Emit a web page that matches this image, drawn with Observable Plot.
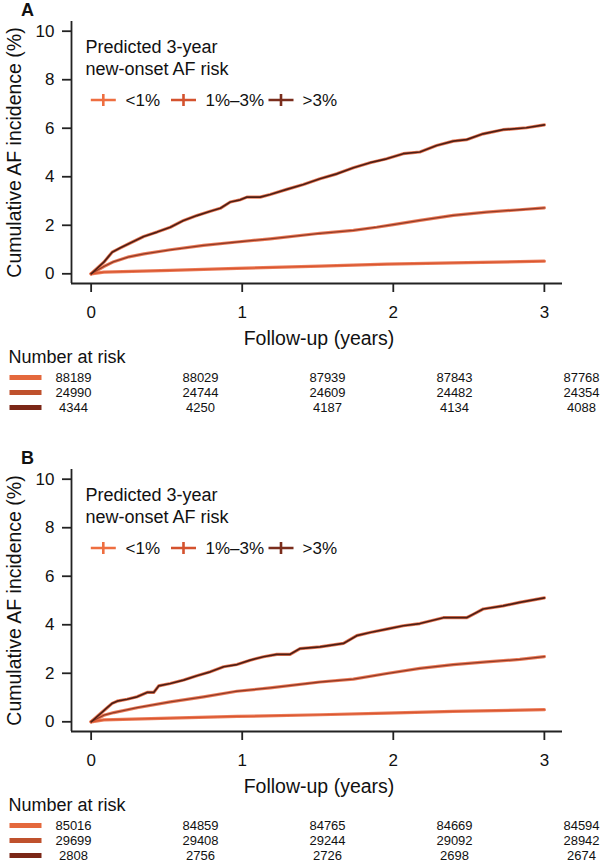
<!DOCTYPE html>
<html><head><meta charset="utf-8">
<script src="https://cdn.jsdelivr.net/npm/d3@7"></script>
<script src="https://cdn.jsdelivr.net/npm/@observablehq/plot@0.6"></script>
<style>
body{margin:0;background:#fff;font-family:"Liberation Sans",Arial,Helvetica,sans-serif;}
#root{position:relative;width:606px;height:865px;overflow:hidden;background:#fff;}
.panel{position:absolute;left:0;width:606px;height:447px;}
.letter{position:absolute;left:21px;top:1px;font-size:18px;line-height:18px;font-weight:bold;color:#111;}
.chart{position:absolute;left:0;top:0;}
.risk{position:absolute;left:0;top:340px;}
</style></head><body><div id="root"></div>
<script>
// ---------- data ----------
const groups = ["<1%", "1%–3%", ">3%"];
const xTicks = [0, 1, 2, 3];
const yTicks = [0, 2, 4, 6, 8, 10];
const panelLetters = ["A", "B"];

// Panel A curves (years, cumulative incidence %)
const A_low_t  = [0, 0.084, 0.524, 0.965, 1.515, 1.956, 2.397, 3.0];
const A_low_v  = [0, 0.07, 0.14, 0.22, 0.32, 0.40, 0.45, 0.52];
const A_mid_t  = [0, 0.084, 0.15, 0.25, 0.35, 0.524, 0.744, 0.965, 1.185, 1.515, 1.736, 1.89, 2.0, 2.176, 2.397, 2.617, 2.837, 3.0];
const A_mid_v  = [0, 0.30, 0.50, 0.70, 0.82, 0.99, 1.17, 1.31, 1.44, 1.67, 1.79, 1.92, 2.03, 2.20, 2.41, 2.54, 2.64, 2.72];
const A_high_t = [0, 0.084, 0.139, 0.194, 0.249, 0.348, 0.436, 0.524, 0.612, 0.70, 0.789, 0.855, 0.921, 0.987, 1.031, 1.119, 1.185, 1.295, 1.405, 1.515, 1.626, 1.736, 1.846, 1.956, 2.066, 2.176, 2.287, 2.397, 2.485, 2.595, 2.727, 2.881, 3.0];
const A_high_v = [0, 0.48, 0.89, 1.07, 1.24, 1.54, 1.72, 1.92, 2.20, 2.40, 2.58, 2.70, 2.96, 3.05, 3.16, 3.16, 3.27, 3.48, 3.68, 3.92, 4.12, 4.37, 4.58, 4.74, 4.95, 5.02, 5.29, 5.47, 5.53, 5.77, 5.94, 6.02, 6.14];

// Panel B curves
const B_low_t  = [0, 0.084, 0.524, 0.965, 1.515, 1.956, 2.397, 3.0];
const B_low_v  = [0, 0.08, 0.15, 0.22, 0.29, 0.36, 0.43, 0.50];
const B_mid_t  = [0, 0.084, 0.15, 0.304, 0.524, 0.744, 0.965, 1.185, 1.515, 1.736, 1.956, 2.176, 2.397, 2.617, 2.837, 3.0];
const B_mid_v  = [0, 0.27, 0.38, 0.58, 0.82, 1.03, 1.26, 1.40, 1.64, 1.76, 1.99, 2.20, 2.36, 2.47, 2.57, 2.69];
const B_high_t = [0, 0.062, 0.106, 0.139, 0.172, 0.238, 0.304, 0.37, 0.414, 0.447, 0.524, 0.612, 0.70, 0.789, 0.877, 0.965, 1.053, 1.141, 1.229, 1.317, 1.383, 1.515, 1.67, 1.758, 1.846, 1.956, 2.066, 2.176, 2.331, 2.485, 2.529, 2.595, 2.727, 2.837, 3.0];
const B_high_v = [0, 0.34, 0.58, 0.76, 0.85, 0.93, 1.03, 1.21, 1.21, 1.48, 1.58, 1.72, 1.90, 2.06, 2.27, 2.36, 2.54, 2.68, 2.78, 2.78, 3.02, 3.09, 3.23, 3.55, 3.68, 3.82, 3.96, 4.05, 4.29, 4.29, 4.43, 4.65, 4.78, 4.92, 5.11];

// Number at risk (columns at equally spaced table positions)
const riskA_low  = [88189, 88029, 87939, 87843, 87768];
const riskA_mid  = [24990, 24744, 24609, 24482, 24354];
const riskA_high = [4344, 4250, 4187, 4134, 4088];
const riskB_low  = [85016, 84859, 84765, 84669, 84594];
const riskB_mid  = [29699, 29408, 29244, 29092, 28942];
const riskB_high = [2808, 2756, 2726, 2698, 2674];
const riskCols = [0, 1, 2, 3, 4];

// ---------- styles ----------
const font = '"Liberation Sans", Arial, Helvetica, sans-serif';
const haloColor = "#E86C45";
const lineColors = ["#D9562F", "#923B27", "#4E1F15"];
const lineWidths = [1.2, 1.3, 1.7];
const legendColors = ["#EE6E40", "#D4522E", "#7A2D1C"];
const swatchColors = ["#E4683C", "#BF512D", "#7B2716"];
const axisColor = "#222";

const crossSymbol = {draw(ctx) { ctx.moveTo(-12.5, 0); ctx.lineTo(12.5, 0); ctx.moveTo(0, -6); ctx.lineTo(0, 6); }};
const barSymbol = {draw(ctx) { ctx.moveTo(-16, 0); ctx.lineTo(16, 0); }};

function series(ts, vs) { return ts.map((t, i) => ({t, v: vs[i]})); }

function chart(curves) {
  const crossDx = [31.8, 112, 209.5];
  const labelDx = [54, 134, 231];
  const marks = [
    Plot.ruleX([-0.13], {stroke: axisColor, strokeWidth: 1.8}),
    Plot.ruleY([-0.4], {stroke: axisColor, strokeWidth: 1.8}),
    Plot.axisX({ticks: xTicks, tickFormat: d => String(d), tickSize: 9, tickPadding: 13, fontSize: 17, label: null, stroke: axisColor, strokeWidth: 1.8, fill: "#111"}),
    Plot.axisY({ticks: yTicks, tickFormat: d => String(d), tickSize: 9, tickPadding: 8, fontSize: 17, label: null, stroke: axisColor, strokeWidth: 1.8, fill: "#111"}),
    Plot.text(["Cumulative AF incidence (%)"], {frameAnchor: "left", dx: -64, rotate: -90, textAnchor: "middle", lineAnchor: "top", fontSize: 19.5, fill: "#111", text: d => d}),
    Plot.text(["Follow-up (years)"], {frameAnchor: "bottom", dx: 2, dy: 61, textAnchor: "middle", lineAnchor: "bottom", fontSize: 19.5, fill: "#111", text: d => d}),
    Plot.text(["Predicted 3-year\nnew-onset AF risk"], {frameAnchor: "top-left", dx: 14, dy: 53, lineAnchor: "bottom", textAnchor: "start", lineHeight: 1.17, fontSize: 18, fill: "#111", text: d => d})
  ];
  groups.forEach((g, i) => {
    marks.push(Plot.dot([g], {frameAnchor: "top-left", dx: crossDx[i], dy: 78.5, symbol: crossSymbol, fill: "none", stroke: legendColors[i], strokeWidth: 2.6}));
    marks.push(Plot.text([g], {frameAnchor: "top-left", dx: labelDx[i], dy: 79, textAnchor: "start", lineAnchor: "middle", fontSize: 17, fill: "#111", text: d => d}));
  });
  curves.forEach((c, i) => {
    marks.push(Plot.line(c, {x: "t", y: "v", stroke: haloColor, strokeWidth: 3.2, strokeOpacity: 0.9}));
  });
  curves.forEach((c, i) => {
    marks.push(Plot.line(c, {x: "t", y: "v", stroke: lineColors[i], strokeWidth: lineWidths[i]}));
  });
  return Plot.plot({
    width: 606, height: 350, marginTop: 21, marginBottom: 67, marginLeft: 71, marginRight: 44,
    style: {fontFamily: font, color: "#111", background: "transparent", overflow: "visible"},
    x: {domain: [-0.13, 3.12]},
    y: {domain: [-0.4, 10.4]},
    marks
  });
}

function riskTable(rows) {
  const data = [];
  rows.forEach((arr, gi) => arr.forEach((n, ci) => data.push({g: groups[gi], c: riskCols[ci], n})));
  const marks = [
    Plot.text(["Number at risk"], {frameAnchor: "top-left", dx: 8, dy: 22, lineAnchor: "bottom", textAnchor: "start", fontSize: 18, fill: "#111", text: d => d})
  ];
  groups.forEach((g, i) => {
    marks.push(Plot.dot([g], {y: d => d, frameAnchor: "left", dx: 25, symbol: barSymbol, fill: "none", stroke: swatchColors[i], strokeWidth: 5}));
  });
  marks.push(Plot.text(data, {x: "c", y: "g", text: d => String(d.n), textAnchor: "middle", lineAnchor: "middle", fontSize: 13, letterSpacing: 0.9, fill: "#111"}));
  return Plot.plot({
    width: 606, height: 80, marginTop: 0, marginBottom: 0, marginLeft: 0, marginRight: 0,
    style: {fontFamily: font, color: "#111", background: "transparent", overflow: "visible"},
    x: {type: "point", domain: riskCols, range: [72.5, 582], padding: 0, axis: null},
    y: {type: "point", domain: groups, range: [37.2, 67.2], padding: 0, axis: null},
    marks
  });
}

const panels = [
  {curves: [series(A_low_t, A_low_v), series(A_mid_t, A_mid_v), series(A_high_t, A_high_v)], risk: [riskA_low, riskA_mid, riskA_high], top: 0},
  {curves: [series(B_low_t, B_low_v), series(B_mid_t, B_mid_v), series(B_high_t, B_high_v)], risk: [riskB_low, riskB_mid, riskB_high], top: 448}
];

const root = document.getElementById("root");
panels.forEach((p, i) => {
  const div = document.createElement("div");
  div.className = "panel";
  div.style.top = p.top + "px";
  const c = chart(p.curves); c.classList.add("chart");
  const r = riskTable(p.risk); r.classList.add("risk");
  div.appendChild(c);
  div.appendChild(r);
  const letter = document.createElement("div");
  letter.className = "letter";
  letter.textContent = panelLetters[i];
  div.appendChild(letter);
  root.appendChild(div);
});
</script></body></html>
